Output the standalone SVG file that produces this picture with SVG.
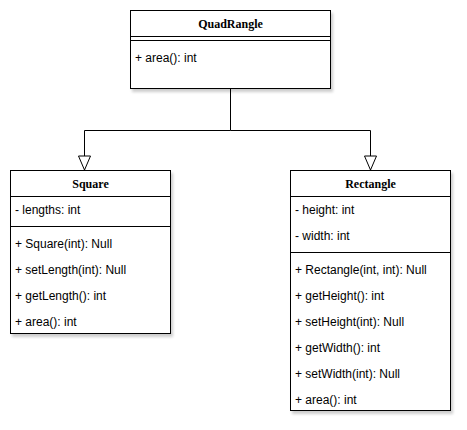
<svg xmlns="http://www.w3.org/2000/svg" width="467" height="430" viewBox="0 0 467 430">
<style>
.box{fill:#fff;stroke:#000;stroke-width:1}
.ln{stroke:#000;stroke-width:1;fill:none}
.t{font-family:"Liberation Serif",serif;font-weight:bold;font-size:12px;text-anchor:middle;fill:#000}
.i{font-family:"Liberation Sans",Arial,sans-serif;font-size:12px;fill:#000}
.c{stroke:#000;stroke-width:1;fill:none}
</style>
<defs>
<filter id="sh" x="-10%" y="-10%" width="130%" height="130%">
<feGaussianBlur in="SourceAlpha" stdDeviation="1.5"/>
<feOffset dx="2" dy="3" result="b"/>
<feComponentTransfer><feFuncA type="linear" slope="0.2"/></feComponentTransfer>
<feMerge><feMergeNode/><feMergeNode in="SourceGraphic"/></feMerge>
</filter>
<marker id="tri" markerWidth="16" markerHeight="16" refX="15" refY="7" orient="auto" markerUnits="userSpaceOnUse">
<path d="M1,1 L15,7 L1,13 Z" fill="#fff" stroke="#000" stroke-width="1"/>
</marker>
</defs>
<g id="connectors">
<path class="c" d="M230.5,88 V130.5 H84.5 V170" marker-end="url(#tri)"/>
<path class="c" d="M230.5,130.5 H370.5 V170" marker-end="url(#tri)"/>
</g>
<g id="QuadRangle">
<rect class="box" x="130.5" y="10.5" width="200" height="78" filter="url(#sh)"/>
<line class="ln" x1="130.5" y1="36.5" x2="330.5" y2="36.5"/>
<line class="ln" x1="130.5" y1="40.5" x2="330.5" y2="40.5"/>
<text class="t" x="230.5" y="28">QuadRangle</text>
<text class="i" x="135" y="62">+ area(): int</text>
</g>
<g id="Square">
<rect class="box" x="10.5" y="170.5" width="160" height="163" filter="url(#sh)"/>
<line class="ln" x1="10.5" y1="196.5" x2="170.5" y2="196.5"/>
<line class="ln" x1="10.5" y1="226.5" x2="170.5" y2="226.5"/>
<text class="t" x="90.5" y="188">Square</text>
<text class="i" x="15" y="214">- lengths: int</text>
<text class="i" x="15" y="248">+ Square(int): Null</text>
<text class="i" x="15" y="274">+ setLength(int): Null</text>
<text class="i" x="15" y="300">+ getLength(): int</text>
<text class="i" x="15" y="326">+ area(): int</text>
</g>
<g id="Rectangle">
<rect class="box" x="290.5" y="170.5" width="160" height="240" filter="url(#sh)"/>
<line class="ln" x1="290.5" y1="196.5" x2="450.5" y2="196.5"/>
<line class="ln" x1="290.5" y1="252.5" x2="450.5" y2="252.5"/>
<text class="t" x="370.5" y="188">Rectangle</text>
<text class="i" x="295" y="214">- height: int</text>
<text class="i" x="295" y="240">- width: int</text>
<text class="i" x="295" y="274">+ Rectangle(int, int): Null</text>
<text class="i" x="295" y="300">+ getHeight(): int</text>
<text class="i" x="295" y="326">+ setHeight(int): Null</text>
<text class="i" x="295" y="352">+ getWidth(): int</text>
<text class="i" x="295" y="378">+ setWidth(int): Null</text>
<text class="i" x="295" y="404">+ area(): int</text>
</g>
</svg>
